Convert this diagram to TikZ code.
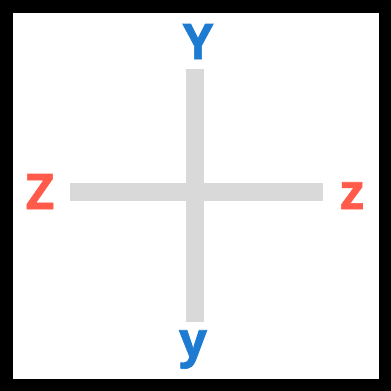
\documentclass[tikz,border=0pt]{standalone}
\usepackage{fontspec}
\setsansfont{Open Sans}[BoldFeatures={FakeBold=1.2}]
\definecolor{axisblue}{HTML}{1E7BD2}
\definecolor{axisred}{HTML}{FF5A4A}
\definecolor{bargrey}{HTML}{D9D9D9}
\begin{document}
\begin{tikzpicture}[
  x=1pt,
  y=-1pt,
  bar/.style={line width=18pt, draw=bargrey},
  lbl/.style={font=\sffamily\bfseries\fontsize{49}{49}\selectfont, inner sep=0pt, anchor=base}
]
  \useasboundingbox (0,0) rectangle (391,391);

  % Rahmen
  \draw[line width=12.5pt] (6.25,6.25) rectangle (384.75,384.75);

  % Enden der Balken
  \coordinate (top) at (195,69);
  \coordinate (bottom) at (195,322);
  \coordinate (left) at (70,192);
  \coordinate (right) at (323,192);

  % Balken
  \draw[bar] (left) -- (right);
  \draw[bar] (top) -- (bottom);

  % Beschriftungen
  \node[lbl, text=axisblue] (Ytop) at (198,59) {Y};
  \node[lbl, text=axisblue] (ybottom) at (193,357) {y};
  \node[lbl, text=axisred] (Zleft) at (40,209) {Z};
  \node[lbl, text=axisred] (zright) at (352,209) {z};
\end{tikzpicture}
\end{document}
